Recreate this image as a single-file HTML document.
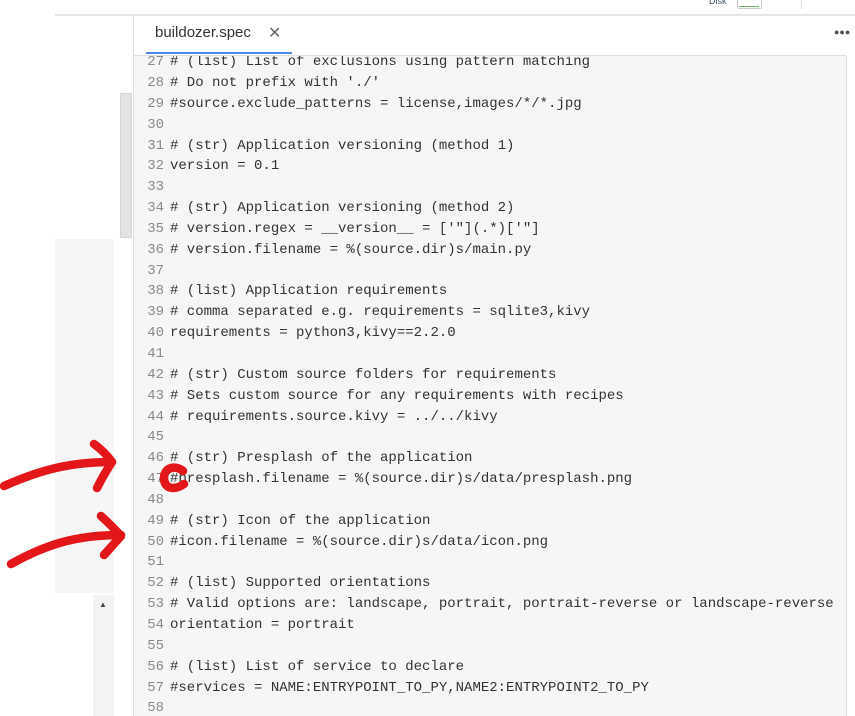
<!DOCTYPE html>
<html><head><meta charset="utf-8"><style>
body{margin:0;width:855px;height:716px;overflow:hidden;background:#fff;position:relative;font-family:"Liberation Sans",sans-serif}
.abs{position:absolute}
pre{margin:0;font-family:"Liberation Mono",monospace;font-size:14px;line-height:20.84px;color:#333;position:absolute;left:-1px;top:-3.8px}
.n{color:#8a8a8a;display:inline-block;width:31px;text-align:right;margin-right:6px}
</style></head><body>
<div class="abs" style="left:55px;top:14px;width:800px;height:2px;background:#e6e6e6"></div>
<div class="abs" style="left:133px;top:16px;width:1px;height:700px;background:#ddd"></div>
<div class="abs" style="left:155px;top:24px;font-size:15px;color:#333">buildozer.spec</div>
<div class="abs" style="left:268px;top:23px;font-size:16px;color:#666">✕</div>
<div class="abs" style="left:146px;top:52px;width:146px;height:2px;background:#4a86e8"></div>
<div class="abs" style="left:834px;top:27px;font-size:9px;color:#555;letter-spacing:0px">●●●</div>
<div class="abs" style="left:709px;top:-4px;font-size:9px;color:#456">Disk</div>
<div class="abs" style="left:737px;top:-2px;width:23px;height:10px;border:1px solid #ccc;border-top:none;border-radius:0 0 2px 2px"></div>
<div class="abs" style="left:739px;top:6px;width:20px;height:1px;background:#6b6"></div>
<div class="abs" style="left:801px;top:0;width:1px;height:9px;background:#ddd"></div>
<div class="abs" style="left:134px;top:55px;width:712px;height:1px;background:#e0e0e0"></div>
<div class="abs" style="left:120px;top:93px;width:12px;height:145px;background:#e3e3e3;border:1px solid #d4d4d4;box-sizing:border-box"></div>
<div class="abs" style="left:55px;top:239px;width:59px;height:354px;background:#f6f6f6"></div>
<div class="abs" style="left:93px;top:595px;width:21px;height:121px;background:#f3f3f3"></div>
<div class="abs" style="left:99px;top:600px;font-size:8px;color:#444">▲</div>
<div class="abs" style="left:134px;top:56px;width:712px;height:660px;background:#f6f6f6;overflow:hidden;border-right:1px solid #ddd">
<pre><span class="n">27</span># (list) List of exclusions using pattern matching
<span class="n">28</span># Do not prefix with './'
<span class="n">29</span>#source.exclude_patterns = license,images/*/*.jpg
<span class="n">30</span>
<span class="n">31</span># (str) Application versioning (method 1)
<span class="n">32</span>version = 0.1
<span class="n">33</span>
<span class="n">34</span># (str) Application versioning (method 2)
<span class="n">35</span># version.regex = __version__ = ['"](.*)['"]
<span class="n">36</span># version.filename = %(source.dir)s/main.py
<span class="n">37</span>
<span class="n">38</span># (list) Application requirements
<span class="n">39</span># comma separated e.g. requirements = sqlite3,kivy
<span class="n">40</span>requirements = python3,kivy==2.2.0
<span class="n">41</span>
<span class="n">42</span># (str) Custom source folders for requirements
<span class="n">43</span># Sets custom source for any requirements with recipes
<span class="n">44</span># requirements.source.kivy = ../../kivy
<span class="n">45</span>
<span class="n">46</span># (str) Presplash of the application
<span class="n">47</span>#presplash.filename = %(source.dir)s/data/presplash.png
<span class="n">48</span>
<span class="n">49</span># (str) Icon of the application
<span class="n">50</span>#icon.filename = %(source.dir)s/data/icon.png
<span class="n">51</span>
<span class="n">52</span># (list) Supported orientations
<span class="n">53</span># Valid options are: landscape, portrait, portrait-reverse or landscape-reverse
<span class="n">54</span>orientation = portrait
<span class="n">55</span>
<span class="n">56</span># (list) List of service to declare
<span class="n">57</span>#services = NAME:ENTRYPOINT_TO_PY,NAME2:ENTRYPOINT2_TO_PY
<span class="n">58</span></pre>
</div>
<svg class="abs" style="left:0;top:0" width="855" height="716">
<g fill="none" stroke="#e3161a" stroke-width="8.5" stroke-linecap="round" stroke-linejoin="round">
<path d="M4,486 C40,470 70,462 112,462"/>
<path d="M94,444 Q105,452 112,462 Q104,474 97,488"/>
<path d="M11,564 C45,545 75,535 121,535"/>
<path d="M101,516 Q112,526 121,536 Q112,546 104,555"/>
<path d="M183,471 C176,465 164,467 164,478 C164,490 176,490 184,484"/>
</g>
</svg>
</body></html>
